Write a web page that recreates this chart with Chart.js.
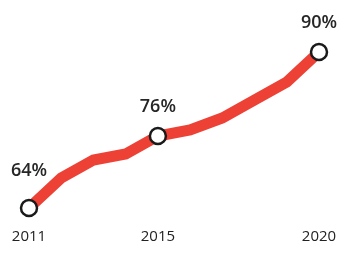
<!DOCTYPE html>
<html>
<head>
<meta charset="utf-8">
<script src="https://cdn.jsdelivr.net/npm/chart.js@4/dist/chart.umd.min.js"></script>
<style>
html,body{margin:0;padding:0;background:#fff;}
#wrap{width:350px;height:255px;}
</style>
</head>
<body>
<div id="wrap"><canvas id="c" width="350" height="255"></canvas></div>
<script>
const years = ['2011','2012','2013','2014','2015','2016','2017','2018','2019','2020'];
const shares = [64, 69, 72, 73, 76, 77, 79, 82, 85, 90];
const shownYears = ['2011','2015','2020'];

const highlighted = years.map(y => shownYears.includes(y));
const labelOffsets = {0: 37};

const valueLabels = {
  id: 'valueLabels',
  afterDatasetsDraw(chart) {
    const ctx = chart.ctx;
    const meta = chart.getDatasetMeta(0);
    ctx.save();
    ctx.font = '600 18px "Open Sans"';
    ctx.fillStyle = '#262626';
    ctx.textAlign = 'center';
    ctx.textBaseline = 'middle';
    meta.data.forEach((pt, i) => {
      if (!highlighted[i]) return;
      const off = labelOffsets[i] !== undefined ? labelOffsets[i] : 29;
      ctx.fillText(shares[i] + '%', pt.x, pt.y - off);
    });
    ctx.restore();
  }
};

new Chart(document.getElementById('c'), {
  type: 'line',
  data: {
    labels: years,
    datasets: [{
      data: shares,
      borderColor: '#EE4136',
      borderWidth: 11,
      borderJoinStyle: 'miter',
      borderCapStyle: 'butt',
      tension: 0,
      fill: false,
      pointRadius: highlighted.map(h => h ? 8 : 0),
      pointHoverRadius: highlighted.map(h => h ? 8 : 0),
      pointBackgroundColor: '#fff',
      pointBorderColor: '#1a1a1a',
      pointBorderWidth: 2.5,
      clip: false
    }]
  },
  options: {
    responsive: false,
    animation: false,
    events: [],
    layout: { padding: { left: 29, right: 31, top: 52, bottom: -11 } },
    plugins: { legend: { display: false }, tooltip: { enabled: false } },
    scales: {
      x: {
        offset: false,
        grid: { display: false, drawTicks: false },
        border: { display: false },
        afterFit: function(s) { s.paddingLeft = 0; s.paddingRight = 0; },
        ticks: {
          autoSkip: false,
          maxRotation: 0,
          padding: 20,
          color: '#222',
          font: { family: '"Open Sans"', size: 15 },
          callback: function(v, i) { return shownYears.includes(years[i]) ? years[i] : ''; }
        }
      },
      y: {
        display: false,
        min: 64,
        max: 90
      }
    }
  },
  plugins: [valueLabels]
});
</script>
</body>
</html>
